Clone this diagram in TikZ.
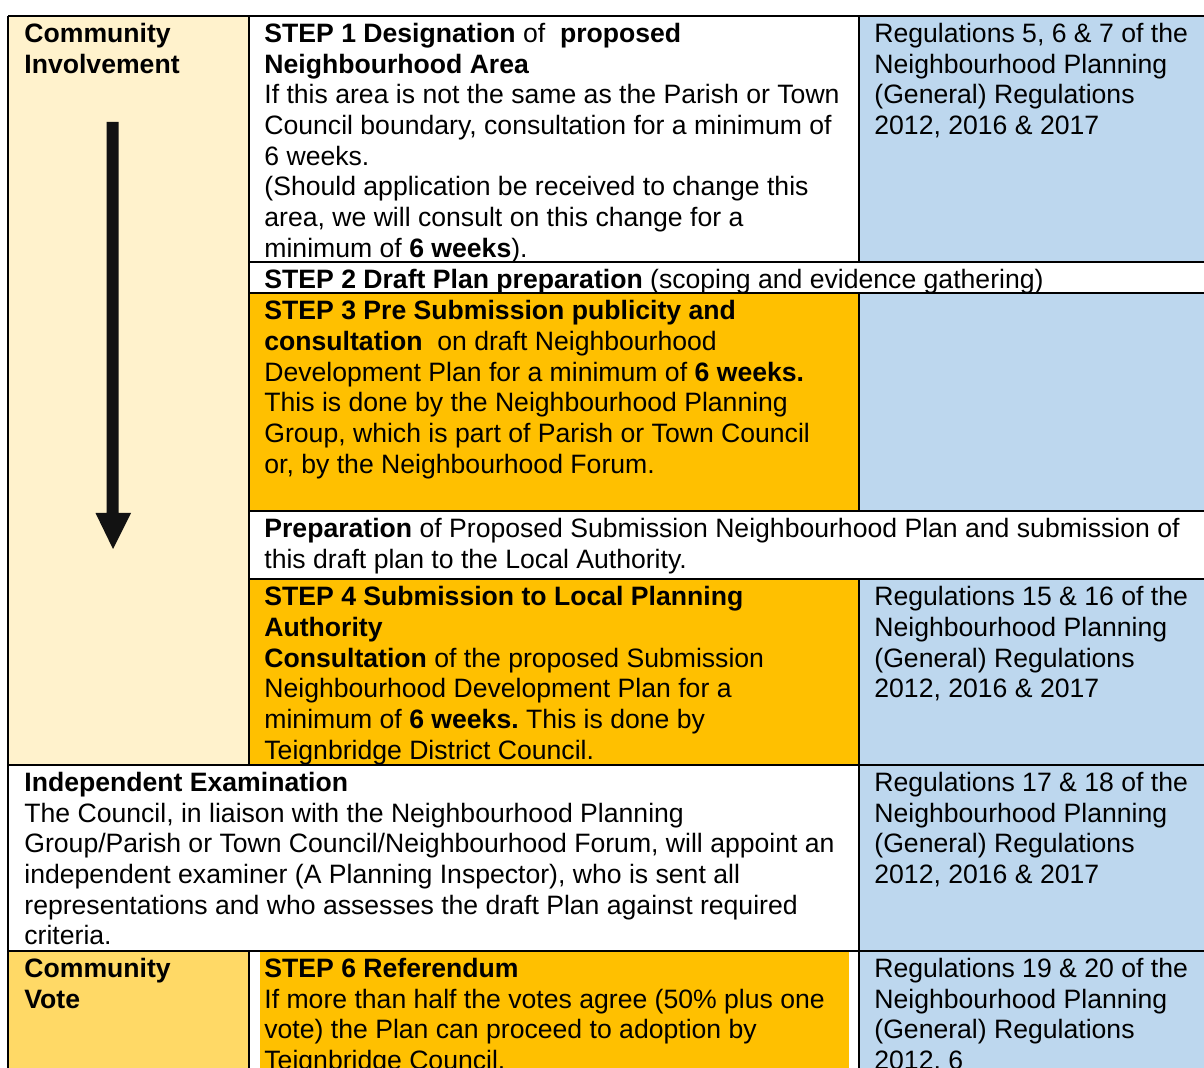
\documentclass[tikz,border=0pt]{standalone}
\usepackage{fontspec}
\setmainfont{Liberation Sans}
\frenchspacing
\definecolor{cream}{HTML}{FFF2CC}
\definecolor{amber}{HTML}{FFC000}
\definecolor{pale}{HTML}{BDD7EE}
\definecolor{gold}{HTML}{FFD966}
\newcommand{\cellfnt}{\fontsize{13.3}{15.35}\selectfont}
\begin{document}
\begin{tikzpicture}[x=0.5pt,y=-0.5pt,
  cell/.style={anchor=north west,inner sep=0pt,align=left,font=\cellfnt},
  gridline/.style={line width=0.95pt,black},
  ]
\clip (0,0) rectangle (1204,1068);
\fill[white] (0,0) rectangle (1204,1068);
% ---- cell fills
\fill[cream] (8,16) rectangle (249,765);
\fill[pale] (859,16) rectangle (1210,262);
\fill[amber] (249,293) rectangle (859,511);
\fill[pale] (859,293) rectangle (1210,511);
\fill[amber] (249,579) rectangle (859,765);
\fill[pale] (859,579) rectangle (1210,765);
\fill[pale] (859,765) rectangle (1210,951);
\fill[gold] (8,951) rectangle (249,1070);
\fill[amber] (260,951) rectangle (849,1070);
\fill[pale] (859,951) rectangle (1210,1070);
% ---- arrow
\coordinate (shaftTL) at (106.5,122);
\coordinate (tip) at (113,549);
\fill[black!93] (shaftTL) -- (118.5,122) -- (118.5,513) -- (131,513) -- (tip)
  -- (95.5,513) -- (106.5,513) -- cycle;
% ---- grid lines
\draw[gridline] (8,16) -- (1210,16);
\draw[gridline] (8,16) -- (8,1070);
\draw[gridline] (249,16) -- (249,765);
\draw[gridline] (249,951) -- (249,1070);
\draw[gridline] (859,16) -- (859,262);
\draw[gridline] (859,293) -- (859,511);
\draw[gridline] (859,579) -- (859,1070);
\draw[gridline] (249,262) -- (1210,262);
\draw[gridline] (249,293) -- (1210,293);
\draw[gridline] (249,511) -- (1210,511);
\draw[gridline] (249,579) -- (1210,579);
\draw[gridline] (8,765) -- (1210,765);
\draw[gridline] (8,951) -- (1210,951);
% ---- texts
\node[cell] (ci) at (24,20.5) {\strut\textbf{Community}\\\textbf{Involvement}};
\node[cell] (s1) at (264,20.5) {\strut\textbf{STEP 1 Designation} of\ \ \textbf{proposed}\\
\textbf{Neighbourhood Area}\\
If this area is not the same as the Parish or Town\\
Council boundary, consultation for a minimum of\\
6 weeks.\\
(Should application be received to change this\\
area, we will consult on this change for a\\
minimum of \textbf{6 weeks}).};
\node[cell] (r1) at (874,20.5) {\strut Regulations 5, 6 \& 7 of the\\
Neighbourhood Planning\\
(General) Regulations\\
2012, 2016 \& 2017};
\node[cell] (s2) at (264,266.5) {\strut\textbf{STEP 2 Draft Plan preparation} (scoping and evidence gathering)};
\node[cell] (s3) at (264,298) {\strut\textbf{STEP 3 Pre Submission publicity and}\\
\textbf{consultation}\ \ on draft Neighbourhood\\
Development Plan for a minimum of \textbf{6 weeks.}\\
This is done by the Neighbourhood Planning\\
Group, which is part of Parish or Town Council\\
or, by the Neighbourhood Forum.};
\node[cell] (prep) at (264,515.5) {\strut\textbf{Preparation} of Proposed Submission Neighbourhood Plan and submission of\\
this draft plan to the Local Authority.};
\node[cell] (s4) at (264,584) {\strut\textbf{STEP 4 Submission to Local Planning}\\
\textbf{Authority}\\
\textbf{Consultation} of the proposed Submission\\
Neighbourhood Development Plan for a\\
minimum of \textbf{6 weeks.} This is done by\\
Teignbridge District Council.};
\node[cell] (r4) at (874,584) {\strut Regulations 15 \& 16 of the\\
Neighbourhood Planning\\
(General) Regulations\\
2012, 2016 \& 2017};
\node[cell] (ie) at (24,769.5) {\strut\textbf{Independent Examination}\\
The Council, in liaison with the Neighbourhood Planning\\
Group/Parish or Town Council/Neighbourhood Forum, will appoint an\\
independent examiner (A Planning Inspector), who is sent all\\
representations and who assesses the draft Plan against required\\
criteria.};
\node[cell] (r5) at (874,769.5) {\strut Regulations 17 \& 18 of the\\
Neighbourhood Planning\\
(General) Regulations\\
2012, 2016 \& 2017};
\node[cell] (cv) at (24,955.5) {\strut\textbf{Community}\\\textbf{Vote}};
\node[cell] (s6) at (264,955.5) {\strut\textbf{STEP 6 Referendum}\\
If more than half the votes agree (50\% plus one\\
vote) the Plan can proceed to adoption by\\
Teignbridge Council.};
\node[cell] (r6) at (874,955.5) {\strut Regulations 19 \& 20 of the\\
Neighbourhood Planning\\
(General) Regulations\\
2012, 6};
\end{tikzpicture}
\end{document}
